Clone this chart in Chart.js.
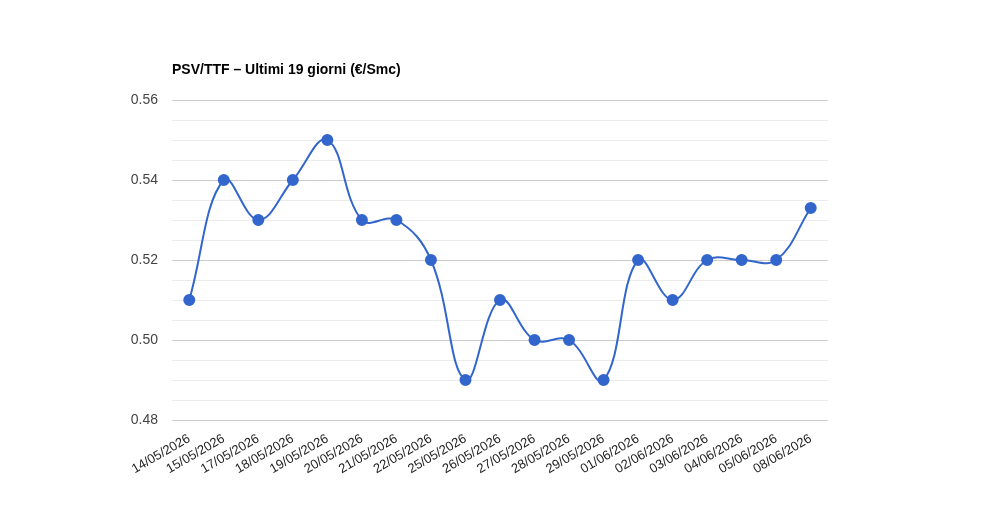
<!DOCTYPE html>
<html>
<head>
<meta charset="utf-8">
<script src="https://cdn.jsdelivr.net/npm/chart.js@4"></script>
<style>
  html, body { margin: 0; padding: 0; background: #fff; }
  #wrap { width: 1000px; height: 520px; }
</style>
</head>
<body>
<div id="wrap"><canvas id="chart" width="1000" height="520"></canvas></div>
<script>
let title = 'PSV/TTF – Ultimi 19 giorni (€/Smc)'

let days = ['14/05/2026', '15/05/2026', '17/05/2026', '18/05/2026', '19/05/2026', '20/05/2026',
    '21/05/2026', '22/05/2026', '25/05/2026', '26/05/2026', '27/05/2026', '28/05/2026',
    '29/05/2026', '01/06/2026', '02/06/2026', '03/06/2026', '04/06/2026', '05/06/2026', '08/06/2026']

let prices = [0.51, 0.54, 0.53, 0.54, 0.55, 0.53, 0.53, 0.52, 0.49, 0.51, 0.50, 0.50,
    0.49, 0.52, 0.51, 0.52, 0.52, 0.52, 0.533]

let yMin = 0.48
let yMax = 0.56
let yStep = 0.005

Chart.defaults.font.family = 'Arial, "Liberation Sans", sans-serif'

// true when a tick sits on a labelled 0.02 line
function isMajor(v) {
    let k = Math.round(v * 1000)
    return k % 20 === 0
}

let titlePlugin = {
    id: 'titleText',
    afterDraw(chart) {
        let c = chart.ctx
        c.save()
        c.font = 'bold 14px Arial, "Liberation Sans", sans-serif'
        c.fillStyle = '#000'
        c.textBaseline = 'middle'
        c.fillText(title, chart.chartArea.left, 70)
        c.restore()
    }
}

let ctx = document.querySelector('#chart')

let chart = new Chart(ctx, {
    type: 'line',
    data: {
        labels: days,
        datasets: [{
            label: title,
            data: prices,
            borderColor: '#3366cc',
            backgroundColor: '#3366cc',
            borderWidth: 2,
            pointRadius: 5,
            pointHoverRadius: 5,
            fill: false,
            tension: 0.4
        }]
    },
    options: {
        responsive: false,
        animation: false,
        layout: { padding: { left: 120, right: 172, top: 100, bottom: 0 } },
        plugins: {
            legend: { display: false },
            title: { display: false },
            tooltip: { enabled: false }
        },
        scales: {
            x: {
                offset: true,
                grid: { display: false },
                border: { display: false },
                ticks: {
                    minRotation: 30,
                    maxRotation: 30,
                    autoSkip: false,
                    color: '#222',
                    font: { size: 13 }
                },
                afterFit(scale) { scale.height = 100 }
            },
            y: {
                min: yMin,
                max: yMax,
                border: { display: false },
                grid: {
                    color: c => isMajor(c.tick.value) ? '#cccccc' : '#ebebeb',
                    lineWidth: 1,
                    drawTicks: false
                },
                ticks: {
                    stepSize: yStep,
                    padding: 14,
                    color: '#444',
                    font: { size: 14 },
                    callback: v => isMajor(v) ? v.toFixed(2) : ''
                },
                afterFit(scale) { scale.width = 52 }
            }
        }
    },
    plugins: [titlePlugin]
})
</script>
</body>
</html>
